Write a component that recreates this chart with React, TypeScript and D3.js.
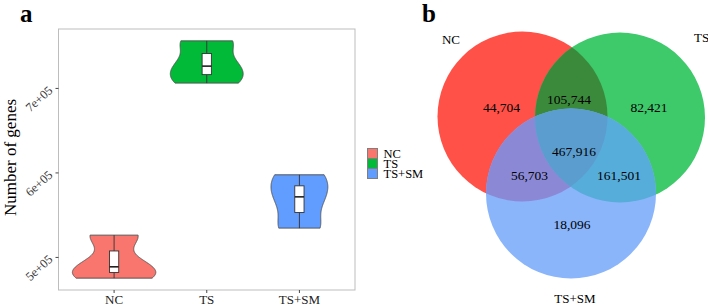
import React from 'react';
import * as d3 from 'd3';

// ---------- data ----------
const groups = ['NC', 'TS', 'TS+SM'];
const ncGenes = [475500, 488900, 526400];
const tsGenes = [706300, 726400, 756300];
const tsSmGenes = [534700, 571700, 597800];
const groupSamples = [ncGenes, tsGenes, tsSmGenes];
const groupColors = ['#F8766D', '#00BA38', '#619CFF'];
const yTicks = [500000, 600000, 700000];
const yTickLabels = ['5e+05', '6e+05', '7e+05'];

const vennSets = ['NC', 'TS', 'TS+SM'];
const vennRegions = ['NC', 'TS', 'TS+SM', 'NC&TS', 'NC&TS+SM', 'TS&TS+SM', 'NC&TS&TS+SM'];
const vennValues = [44704, 82421, 18096, 105744, 56703, 161501, 467916];
const vennRegionColors = ['#FF5147', '#3EC96B', '#8AB5FA', '#3B8A3C', '#8B89D6', '#57ADDA', '#5B9DCF'];

// ---------- layout ----------
const W = 708;
const H = 306;
const panel = { left: 58.5, right: 355, top: 29, bottom: 290 };
const font = "'Liberation Serif', 'DejaVu Serif', serif";

// venn circle geometry (layout)
const vennCircles = [
  { cx: 522.5, cy: 116.5, r: 85 },
  { cx: 620, cy: 117.5, r: 85 },
  { cx: 571, cy: 193.5, r: 85 },
];
const vennSetLabelPos = [
  { x: 451, y: 39, anchor: 'middle' },
  { x: 694, y: 37.5, anchor: 'start' },
  { x: 575, y: 298.5, anchor: 'middle' },
];
const vennValuePos = [
  { x: 501.5, y: 107 },
  { x: 649, y: 107 },
  { x: 572, y: 224.5 },
  { x: 569, y: 99 },
  { x: 529.5, y: 175 },
  { x: 619, y: 175 },
  { x: 574, y: 151 },
];

function bwNrd0(x: number[]): number {
  const sd = d3.deviation(x) as number;
  const iqr = (d3.quantile(x, 0.75) as number) - (d3.quantile(x, 0.25) as number);
  let lo = Math.min(sd, iqr / 1.34);
  if (!lo) lo = sd || Math.abs(x[0]) || 1;
  return 0.9 * lo * Math.pow(x.length, -0.2);
}

function kde(x: number[], bw: number, v: number): number {
  let s = 0;
  for (const xi of x) {
    const z = (v - xi) / bw;
    s += Math.exp(-0.5 * z * z);
  }
  return s / (x.length * bw * Math.sqrt(2 * Math.PI));
}

const T = (props: any) => <text {...props} style={{ fontFamily: font }} />;

export default function App() {
  const allVals = groupSamples.flat();
  const [mn, mx] = d3.extent(allVals) as [number, number];
  const pad = (mx - mn) * 0.05;
  const y = d3.scaleLinear().domain([mn - pad, mx + pad]).range([panel.bottom, panel.top]);
  const x = d3.scalePoint<string>().domain(groups).range([panel.left, panel.right]).padding(0.6);
  const step = x.step();

  const violins = groupSamples.map((s) => {
    const bw = bwNrd0(s);
    const [a, b] = d3.extent(s) as [number, number];
    const n = 200;
    return d3.range(n + 1).map((i) => {
      const v = a + ((b - a) * i) / n;
      return { v, d: kde(s, bw, v) };
    });
  });
  const maxD = d3.max(violins.flat(), (p) => p.d) as number;
  const halfW = (0.9 * step) / 2;

  const line = d3.line<[number, number]>().x((d) => d[0]).y((d) => d[1]);
  const fmt = d3.format(',');

  return (
    <svg
      width={W}
      height={H}
      style={{ position: 'fixed', left: 0, top: 0, background: '#fff', fontFamily: font }}
    >
      <rect x={0} y={0} width={W} height={H} fill="#fff" />
      <defs>
        {vennCircles.map((c, i) => (
          <clipPath id={`vc${i}`} key={i}>
            <circle cx={c.cx} cy={c.cy} r={c.r} />
          </clipPath>
        ))}
      </defs>

      {/* Panel a */}
      <T x={20} y={22} fontSize={25} fontWeight="bold" fill="#000">a</T>
      <rect
        x={panel.left}
        y={panel.top}
        width={panel.right - panel.left}
        height={panel.bottom - panel.top}
        fill="none"
        stroke="#BDBDBD"
        strokeWidth={1}
      />
      {groups.map((g, gi) => {
        const cx = x(g) as number;
        const pts = violins[gi];
        const right: [number, number][] = pts.map((p) => [cx + (p.d / maxD) * halfW, y(p.v)]);
        const left: [number, number][] = pts
          .slice()
          .reverse()
          .map((p) => [cx - (p.d / maxD) * halfW, y(p.v)]);
        const s = groupSamples[gi];
        const q1 = d3.quantile(s, 0.25) as number;
        const q2 = d3.quantile(s, 0.5) as number;
        const q3 = d3.quantile(s, 0.75) as number;
        const iqr = q3 - q1;
        const lowW = d3.min(s.filter((v) => v >= q1 - 1.5 * iqr)) as number;
        const highW = d3.max(s.filter((v) => v <= q3 + 1.5 * iqr)) as number;
        const bw = 0.1 * step;
        return (
          <g key={g}>
            <path
              d={(line([...right, ...left]) as string) + 'Z'}
              fill={groupColors[gi]}
              stroke="#4D4D4D"
              strokeWidth={0.9}
            />
            <line x1={cx} x2={cx} y1={y(highW)} y2={y(q3)} stroke="#333" strokeWidth={0.9} />
            <line x1={cx} x2={cx} y1={y(q1)} y2={y(lowW)} stroke="#333" strokeWidth={0.9} />
            <rect
              x={cx - bw / 2}
              y={y(q3)}
              width={bw}
              height={y(q1) - y(q3)}
              fill="#fff"
              stroke="#333"
              strokeWidth={0.9}
            />
            <line x1={cx - bw / 2} x2={cx + bw / 2} y1={y(q2)} y2={y(q2)} stroke="#222" strokeWidth={1.6} />
          </g>
        );
      })}
      {/* y axis */}
      {yTicks.map((t, i) => (
        <g key={t}>
          <line x1={panel.left - 3} x2={panel.left} y1={y(t)} y2={y(t)} stroke="#333" strokeWidth={0.9} />
          <T
            transform={`translate(${panel.left - 5},${y(t) + 3}) rotate(-42)`}
            textAnchor="end"
            fontSize={12.5}
            fill="#3A3A3A"
          >
            {yTickLabels[i]}
          </T>
        </g>
      ))}
      {/* x axis */}
      {groups.map((g) => (
        <g key={g}>
          <line x1={x(g)} x2={x(g)} y1={panel.bottom} y2={panel.bottom + 3} stroke="#333" strokeWidth={0.9} />
          <T x={x(g)} y={panel.bottom + 13.5} textAnchor="middle" fontSize={13} fill="#222">
            {g}
          </T>
        </g>
      ))}
      <T
        transform={`translate(16,${(panel.top + panel.bottom) / 2 - 2}) rotate(-90)`}
        textAnchor="middle"
        fontSize={17}
        fill="#000"
      >
        Number of genes
      </T>
      {/* legend */}
      {groups.map((g, i) => (
        <g key={g}>
          <rect x={367.5} y={148.5 + i * 10} width={10} height={10} fill={groupColors[i]} stroke="#7F7F7F" strokeWidth={1} />
          <T x={383.5} y={157.5 + i * 10} fontSize={12.5} fill="#000">
            {g}
          </T>
        </g>
      ))}

      {/* Panel b: Venn */}
      <T x={422} y={22} fontSize={25} fontWeight="bold" fill="#000">b</T>
      {vennCircles.map((c, i) => (
        <circle key={i} cx={c.cx} cy={c.cy} r={c.r} fill={vennRegionColors[i]} />
      ))}
      <g clipPath="url(#vc0)">
        <circle cx={vennCircles[1].cx} cy={vennCircles[1].cy} r={vennCircles[1].r} fill={vennRegionColors[3]} />
        <circle cx={vennCircles[2].cx} cy={vennCircles[2].cy} r={vennCircles[2].r} fill={vennRegionColors[4]} />
      </g>
      <g clipPath="url(#vc1)">
        <circle cx={vennCircles[2].cx} cy={vennCircles[2].cy} r={vennCircles[2].r} fill={vennRegionColors[5]} />
      </g>
      <g clipPath="url(#vc0)">
        <g clipPath="url(#vc1)">
          <circle cx={vennCircles[2].cx} cy={vennCircles[2].cy} r={vennCircles[2].r} fill={vennRegionColors[6]} />
        </g>
      </g>
      {vennSets.map((s, i) => (
        <T
          key={s}
          x={vennSetLabelPos[i].x}
          y={vennSetLabelPos[i].y + 4.5}
          textAnchor={vennSetLabelPos[i].anchor}
          fontSize={13}
          fill="#000"
        >
          {s}
        </T>
      ))}
      {vennRegions.map((r, i) => (
        <T
          key={r}
          x={vennValuePos[i].x}
          y={vennValuePos[i].y + 4.7}
          textAnchor="middle"
          fontSize={13.5}
          fill="#000"
        >
          {fmt(vennValues[i])}
        </T>
      ))}
    </svg>
  );
}
